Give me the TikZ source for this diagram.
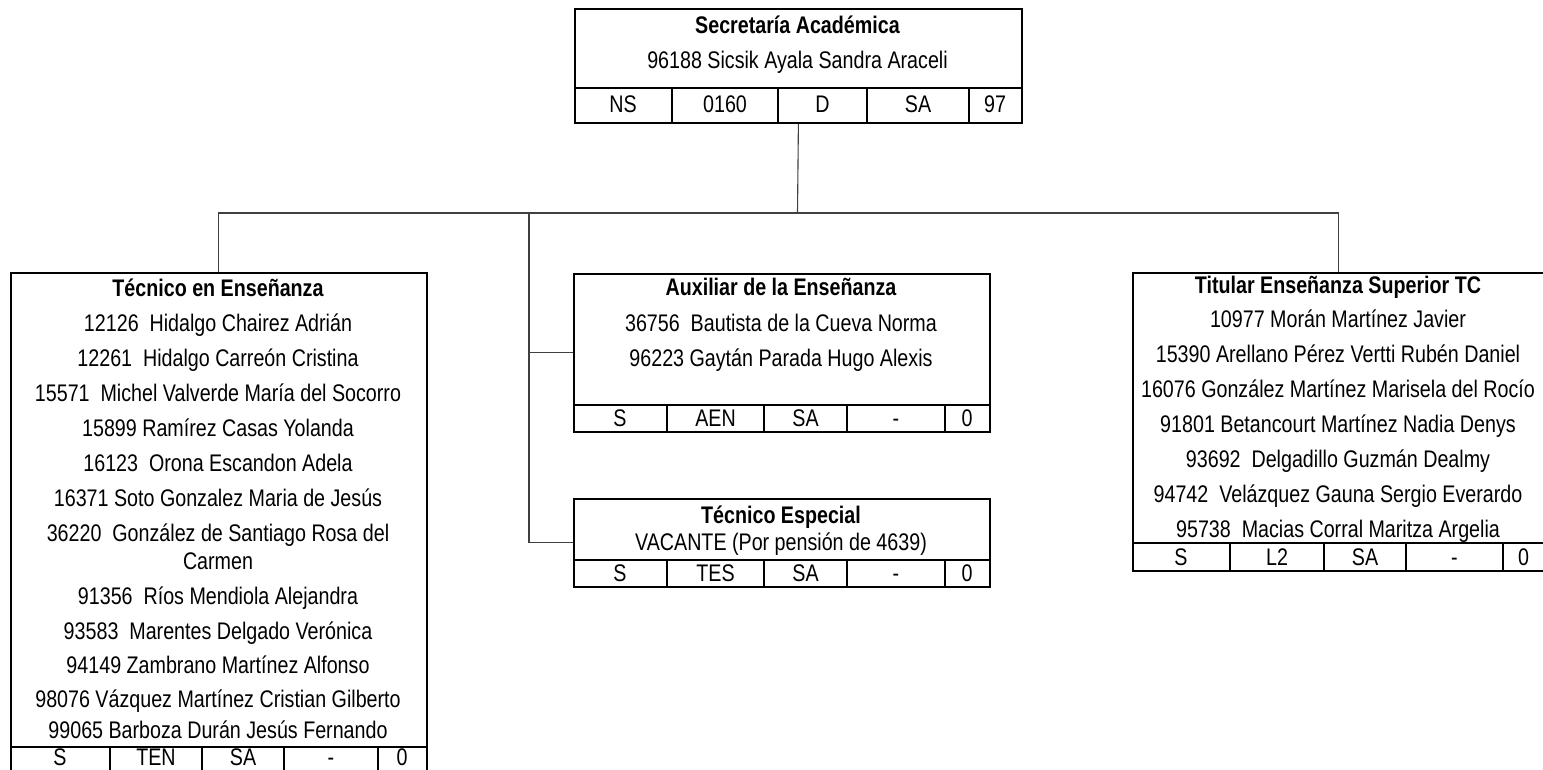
\documentclass[tikz,border=0pt]{standalone}
\usepackage{fontspec}
\setmainfont[FakeStretch=0.82]{Liberation Sans}
\begin{document}
\begin{tikzpicture}[x=1pt,y=-1pt,
  box/.style={draw, line width=1.8pt, inner sep=0pt, anchor=north west},
  rule/.style={line width=1.8pt},
  conn/.style={line width=1.1pt, draw=black!75},
  txt/.style={inner sep=0pt, text height=17pt, text depth=0pt, font=\fontsize{24}{28}\selectfont},
  ttl/.style={txt, font=\fontsize{24}{28}\selectfont\bfseries},
  cell/.style={txt}]
\useasboundingbox (0,0) rectangle (1543,769);
% ---------- Secretaria Academica ----------
\node[box, minimum width=447pt, minimum height=114pt] (sec) at (574,8) {};
\draw[rule] (574,88) -- (1021,88);
\foreach \x in {672,778,867,969} \draw[rule] (\x,88) -- (\x,122);
\node[ttl] (sec-t) at (797.5,25) {Secretaría Académica};
\node[txt] (sec-n) at (797.5,60) {96188 Sicsik Ayala Sandra Araceli};
\foreach \x/\t in {623/NS,725/0160,822.5/D,918/SA,995/97}
  \node[cell] (sec-c\x) at (\x,104) {\t};
% ---------- Tecnico en Ensenanza ----------
\node[box, minimum width=416pt, minimum height=504pt] (ten) at (10,272) {};
\draw[rule] (10,747) -- (426,747);
\foreach \x in {110,202,284,378} \draw[rule] (\x,747) -- (\x,775);
\node[ttl] (ten-t) at (218,288) {Técnico en Enseñanza};
\foreach \y/\t [count=\i] in {
  323/{12126\ \ Hidalgo Chairez Adrián},
  358/{12261\ \ Hidalgo Carreón Cristina},
  393/{15571\ \ Michel Valverde María del Socorro},
  428/{15899 Ramírez Casas Yolanda},
  463/{16123\ \ Orona Escandon Adela},
  498/{16371 Soto Gonzalez Maria de Jesús},
  533/{36220\ \ González de Santiago Rosa del},
  561/{Carmen},
  596/{91356\ \ Ríos Mendiola Alejandra},
  631/{93583\ \ Marentes Delgado Verónica},
  665/{94149 Zambrano Martínez Alfonso},
  699/{98076 Vázquez Martínez Cristian Gilberto},
  730/{99065 Barboza Durán Jesús Fernando}}
  \node[txt] (ten-n\i) at (218,\y) {\t};
\foreach \x/\t in {60/S,156/TEN,243/SA,331/-,402/0}
  \node[cell] (ten-c\x) at (\x,757) {\t};
% ---------- Auxiliar de la Ensenanza ----------
\node[box, minimum width=416pt, minimum height=158pt] (aux) at (573,273) {};
\draw[rule] (573,405) -- (989,405);
\foreach \x in {667,764,847,945} \draw[rule] (\x,405) -- (\x,431);
\node[ttl] (aux-t) at (781,287) {Auxiliar de la Enseñanza};
\node[txt] (aux-n1) at (781,323) {36756\ \ Bautista de la Cueva Norma};
\node[txt] (aux-n2) at (781,358) {96223 Gaytán Parada Hugo Alexis};
\foreach \x/\t in {620/S,715.5/AEN,805.5/SA,896/-,967/0}
  \node[cell] (aux-c\x) at (\x,418) {\t};
% ---------- Tecnico Especial ----------
\node[box, minimum width=416pt, minimum height=88pt] (tes) at (573,498) {};
\draw[rule] (573,560) -- (989,560);
\foreach \x in {667,764,847,945} \draw[rule] (\x,560) -- (\x,586);
\node[ttl] (tes-t) at (781,515) {Técnico Especial};
\node[txt] (tes-n) at (781,542) {VACANTE (Por pensión de 4639)};
\foreach \x/\t in {620/S,715.5/TES,805.5/SA,896/-,967/0}
  \node[cell] (tes-c\x) at (\x,573) {\t};
% ---------- Titular Ensenanza Superior TC ----------
\node[box, minimum width=412pt, minimum height=298pt] (tit) at (1132,272) {};
\draw[rule] (1132,543) -- (1544,543);
\foreach \x in {1230,1324,1406,1503} \draw[rule] (\x,543) -- (\x,570);
\node[ttl] (tit-t) at (1338,285) {Titular Enseñanza Superior TC};
\foreach \y/\t [count=\i] in {
  319/{10977 Morán Martínez Javier},
  354/{15390 Arellano Pérez Vertti Rubén Daniel},
  389/{16076 González Martínez Marisela del Rocío},
  424/{91801 Betancourt Martínez Nadia Denys},
  459/{93692\ \ Delgadillo Guzmán Dealmy},
  494/{94742\ \ Velázquez Gauna Sergio Everardo},
  529/{95738\ \ Macias Corral Maritza Argelia}}
  \node[txt] (tit-n\i) at (1338,\y) {\t};
\foreach \x/\t in {1181/S,1277/L2,1365/SA,1454.5/-,1523.5/0}
  \node[cell] (tit-c\x) at (\x,557) {\t};
% ---------- connectors ----------
\coordinate (bus) at (797.5,213);
\coordinate (split) at (529,213);
\draw[conn] (sec.south) -- (bus);
\draw[conn] (ten.north) |- (bus) -| (tit.north);
\draw[conn] (split) |- (aux.west);
\draw[conn] (split) |- (tes.west);
\end{tikzpicture}
\end{document}
